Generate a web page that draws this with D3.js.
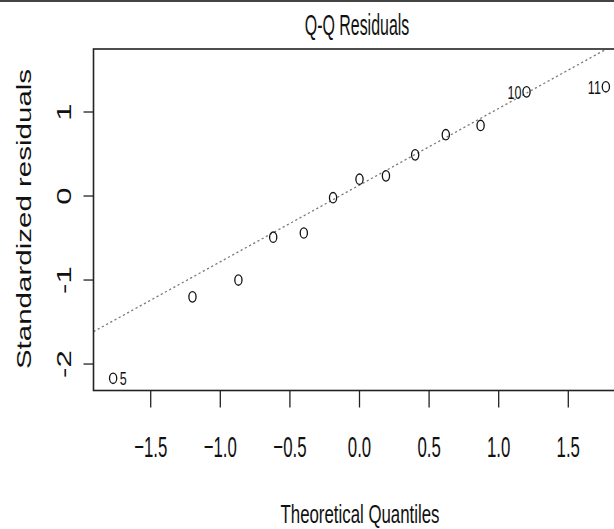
<!DOCTYPE html>
<html>
<head>
    <meta charset="UTF-8">
    <title>Q-Q Residuals</title>
    <style>
        body { margin: 0; background: #fff; }
        svg { display: block; }
        text { font-family: "Liberation Sans", Arial, sans-serif; fill: #111; }
    </style>
</head>
<body>
    <script src="https://d3js.org/d3.v7.min.js"></script>
    <script>
        // theoretical quantile / standardized residual
        var theoretical = [-1.77, -1.20, -0.87, -0.62, -0.40, -0.19, 0.00, 0.19, 0.40, 0.62, 0.87, 1.20, 1.77]
        var stdResid = [-2.17, -1.20, -1.00, -0.49, -0.44, -0.02, 0.20, 0.24, 0.49, 0.73, 0.84, 1.24, 1.30]
        var pointIds = ["5", "", "", "", "", "", "", "", "", "", "", "10", "11"]
        var xTicks = [-1.5, -1.0, -0.5, 0.0, 0.5, 1.0, 1.5]
        var yTicks = [-2, -1, 0, 1]
        var lineIntercept = 0.13 // qqline
        var lineSlope = 0.913

        var width = 614
        var height = 529
        var box = { left: 93.5, right: 625.5, top: 49, bottom: 390.5 }

        var x = d3.scaleLinear().domain([-1.911, 1.911]).range([box.left, box.right])
        var y = d3.scaleLinear().domain([-2.315, 1.75]).range([box.bottom, box.top])

        var svg = d3.select("body")
            .append("svg")
            .attr("width", width)
            .attr("height", height)

        // thin dark edge at the very top of the picture
        svg.append("rect").attr("x", 0).attr("y", 0).attr("width", width).attr("height", 2).attr("fill", "#444")

        // horizontal text, drawn tall and narrow like the original
        function hText(tx, ty, str, size, sx, anchor) {
            svg.append("text")
                .attr("transform", "translate(" + tx + "," + ty + ") scale(" + sx + ",1)")
                .attr("font-size", size)
                .attr("text-anchor", anchor || "middle")
                .text(str)
        }
        // vertical text, stretched along its length
        function vText(tx, ty, str, size, k) {
            svg.append("text")
                .attr("transform", "translate(" + tx + "," + ty + ") rotate(-90) scale(" + k + ",1)")
                .attr("font-size", size)
                .attr("text-anchor", "middle")
                .text(str)
        }

        svg.append("defs").append("clipPath").attr("id", "plotClip")
            .append("rect")
            .attr("x", box.left).attr("y", box.top)
            .attr("width", box.right - box.left).attr("height", box.bottom - box.top)

        // reference line
        var xd = x.domain()
        svg.append("line")
            .attr("clip-path", "url(#plotClip)")
            .attr("x1", x(xd[0])).attr("y1", y(lineIntercept + lineSlope * xd[0]))
            .attr("x2", x(xd[1])).attr("y2", y(lineIntercept + lineSlope * xd[1]))
            .attr("stroke", "#7a7a7a")
            .attr("stroke-width", 1.3)
            .attr("stroke-dasharray", "2.2,2.6")

        // points
        var pts = theoretical.map(function(d, i) { return { q: d, r: stdResid[i], id: pointIds[i] } })
        svg.selectAll("ellipse.pt").data(pts).enter()
            .append("ellipse")
            .attr("class", "pt")
            .attr("cx", function(d) { return x(d.q) })
            .attr("cy", function(d) { return y(d.r) })
            .attr("rx", 3.6)
            .attr("ry", 5.2)
            .attr("fill", "none")
            .attr("stroke", "#111")
            .attr("stroke-width", 1.3)

        // ids of the extreme points
        pts.filter(function(d) { return d.id !== "" }).forEach(function(d) {
            var right = d.q < 0
            hText(x(d.q) + (right ? 6.5 : -5), y(d.r) + 6.8, d.id, 19, 0.66, right ? "start" : "end")
        })

        // box
        svg.append("rect")
            .attr("x", box.left).attr("y", box.top)
            .attr("width", box.right - box.left).attr("height", box.bottom - box.top)
            .attr("fill", "none")
            .attr("stroke", "#222")
            .attr("stroke-width", 1.6)

        // x axis
        xTicks.forEach(function(t) {
            svg.append("line")
                .attr("x1", x(t)).attr("x2", x(t))
                .attr("y1", box.bottom).attr("y2", box.bottom + 17)
                .attr("stroke", "#222").attr("stroke-width", 1.3)
            hText(x(t), 457, d3.format(".1f")(t), 30, 0.56)
        })

        // y axis
        yTicks.forEach(function(t) {
            svg.append("line")
                .attr("x1", box.left - 10).attr("x2", box.left)
                .attr("y1", y(t)).attr("y2", y(t))
                .attr("stroke", "#222").attr("stroke-width", 1.3)
            vText(71, y(t), String(t), 19.5, 1.6)
        })

        hText(357, 35, "Q-Q Residuals", 29, 0.55)
        hText(360, 523, "Theoretical Quantiles", 25.5, 0.66)
        vText(31, 219, "Standardized residuals", 20.5, 1.44)
    </script>
</body>
</html>
